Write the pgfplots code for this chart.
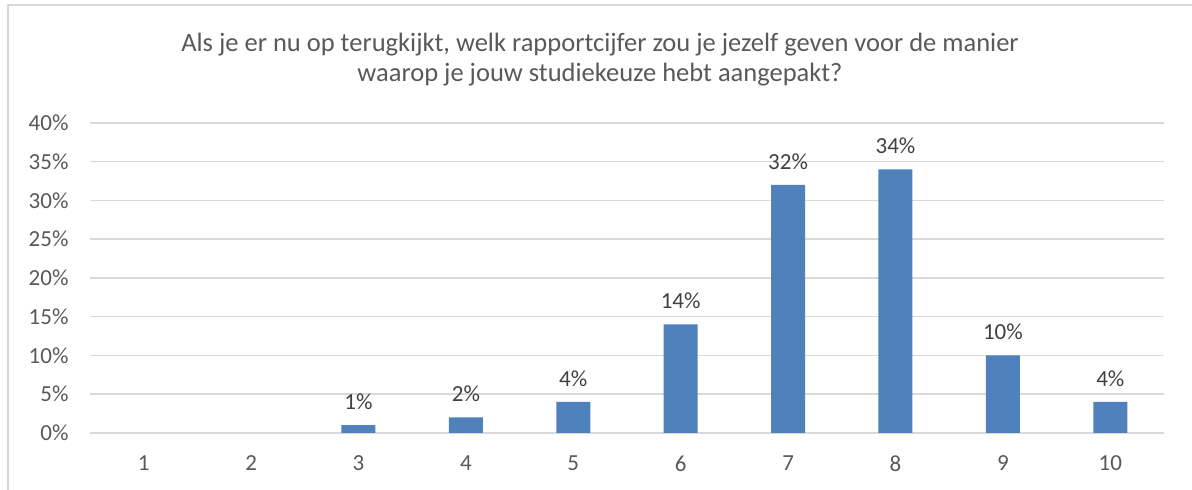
\documentclass[border=0pt]{standalone}
\usepackage{pgfplots}
\pgfplotsset{compat=1.18}
\usepackage{fontspec}
\setmainfont{Carlito}
\definecolor{barblue}{HTML}{4F81BD}
\definecolor{gridgray}{HTML}{D9D9D9}
\definecolor{txtgray}{HTML}{595959}
\definecolor{lblgray}{HTML}{404040}
\begin{document}
\begin{tikzpicture}[x=1pt,y=1pt]
\path[use as bounding box] (-90,-57) rectangle (1102,433);
\begin{axis}[
  at={(0,0)}, anchor=origin,
  scale only axis,
  width=1074pt, height=310pt,
  xmin=0.5, xmax=10.5,
  ymin=0, ymax=40,
  axis line style={draw=none},
  ytick={0,5,...,40},
  yticklabels={0\%,5\%,10\%,15\%,20\%,25\%,30\%,35\%,40\%},
  xtick={1,...,10},
  xticklabels={1,2,3,4,5,6,7,8,9,10},
  ymajorgrids,
  major grid style={gridgray, line width=1.5pt},
  major tick length=0pt,
  tick label style={font=\fontsize{23}{28}\selectfont, text=txtgray},
  yticklabel style={anchor=east, xshift=-18pt},
  xticklabel style={anchor=north, yshift=-19pt},
  /pgf/number format/assume math mode=true,
  ybar, bar width=34pt,
  nodes near coords={\pgfmathprintnumber{\pgfplotspointmeta}\%},
  nodes near coords style={font=\fontsize{23}{28}\selectfont, text=lblgray, anchor=south, yshift=12pt},
  clip=false,
]
\addplot[fill=barblue, draw=none] coordinates {(3,1) (4,2) (5,4) (6,14) (7,32) (8,34) (9,10) (10,4)};
\end{axis}
\draw[gridgray, line width=2pt] (-82,-60) -- (-82,428) -- (1110,428);
\node[align=center, text=txtgray, font=\fontsize{26.5}{30}\selectfont] at (510,373) {Als je er nu op terugkijkt, welk rapportcijfer zou je jezelf geven voor de manier\\waarop je jouw studiekeuze hebt aangepakt?};
\end{tikzpicture}
\end{document}
